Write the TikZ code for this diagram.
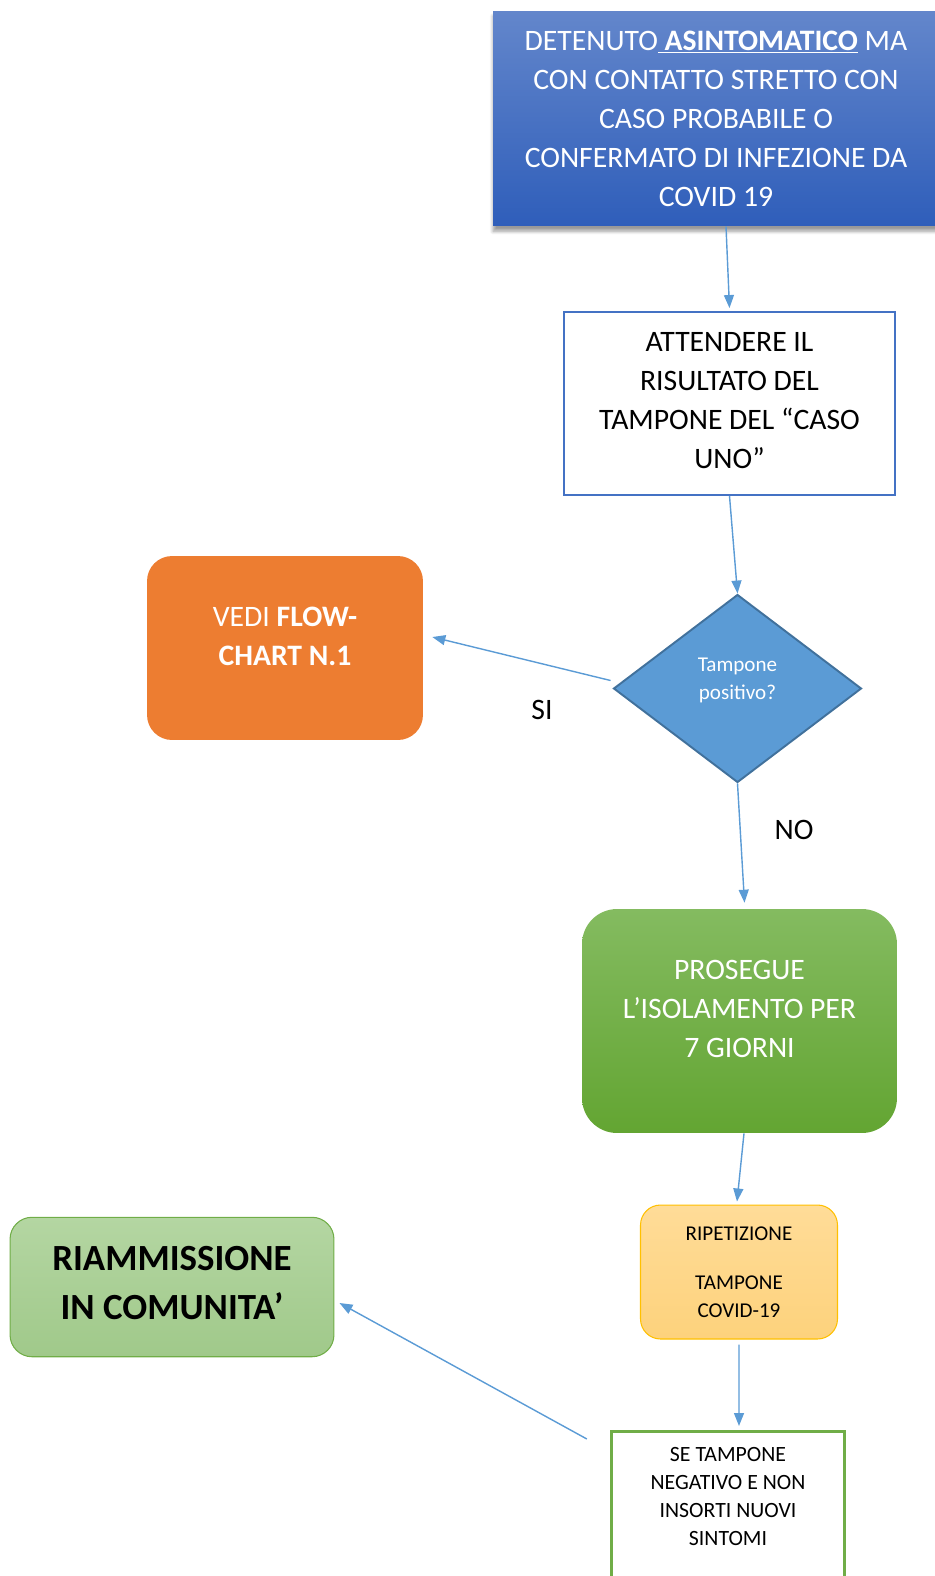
\documentclass[tikz,border=0pt]{standalone}
\usepackage{fontspec}
\setmainfont{Carlito}
\usetikzlibrary{shapes.geometric,arrows.meta,shadows.blur}

\begin{document}
\begin{tikzpicture}[
	x=0.02cm, y=-0.02cm,
	flow/.style={draw=lineblue, line width=0.8pt, -{Triangle[length=0.26cm,width=0.2cm]}},
	bigtext/.style={font=\fontsize{16.9}{22.2}\selectfont, align=center},
	smalltext/.style={font=\fontsize{12}{16}\selectfont, align=center},
	startbox/.style={rectangle, inner sep=0pt, top color=startblue!75, bottom color=startblue, draw=none,
		blur shadow={shadow xshift=0pt, shadow yshift=-3pt, shadow blur steps=6}, text=white, bigtext},
	waitbox/.style={rectangle, inner sep=0pt, draw=borderblue, line width=1.1pt, fill=white, bigtext},
	decision/.style={diamond, inner sep=0pt, fill=diamondblue, draw=diamondedge, line width=1.1pt},
	orangebox/.style={rectangle, rounded corners=0.5cm, inner sep=0pt, fill=flowchart},
	greenbox/.style={rectangle, rounded corners=0.7cm, inner sep=0pt, top color=greentop, bottom color=greenbottom},
	yellowbox/.style={rectangle, rounded corners=0.4cm, inner sep=0pt, top color=yellowtop, bottom color=yellowbottom,
		draw=yellowedge, line width=0.6pt, smalltext},
	endbox/.style={rectangle, rounded corners=0.44cm, inner sep=0pt, top color=lighttop, bottom color=lightbottom,
		draw=greenedge, line width=0.6pt},
	checkbox/.style={rectangle, inner sep=0pt, draw=greenedge, line width=1.6pt, fill=white}
	]
		\definecolor{startblue}{RGB}{47, 94, 186}
		\definecolor{borderblue}{RGB}{68, 114, 196}
		\definecolor{lineblue}{RGB}{91, 155, 213}
		\definecolor{diamondblue}{RGB}{91, 155, 213}
		\definecolor{diamondedge}{RGB}{65, 113, 156}
		\definecolor{flowchart}{RGB}{237, 125, 49}
		\definecolor{greentop}{RGB}{132, 187, 96}
		\definecolor{greenbottom}{RGB}{99, 165, 50}
		\definecolor{yellowtop}{RGB}{255, 220, 152}
		\definecolor{yellowbottom}{RGB}{253, 210, 124}
		\definecolor{yellowedge}{RGB}{255, 192, 0}
		\definecolor{lighttop}{RGB}{180, 214, 162}
		\definecolor{lightbottom}{RGB}{160, 201, 138}
		\definecolor{greenedge}{RGB}{112, 173, 71}

	\useasboundingbox (0,0) rectangle (935,1576);

	% starting case
	\node (detenuto) [startbox, minimum width=8.92cm, minimum height=4.3cm] at (716,118.5)
		{DETENUTO\underline{\textbf{ ASINTOMATICO}} MA\\CON CONTATTO STRETTO CON\\CASO PROBABILE O\\CONFERMATO DI INFEZIONE DA\\COVID 19};

	% wait for the swab
	\node (attesa) [waitbox, minimum width=6.62cm, minimum height=3.66cm] at (729.5,403.5) {};
	\node [bigtext] at ([yshift=0.06cm]attesa.center)
		{ATTENDERE IL\\RISULTATO DEL\\TAMPONE DEL \textquotedblleft CASO\\UNO\textquotedblright};

	% decision
	\node (test) [decision, minimum width=4.96cm, minimum height=3.76cm] at (737.5,688.5) {};
	\node [smalltext, text=white] at ([yshift=0.17cm]test.center) {Tampone\\positivo?};

	% positive branch
	\node (flowchart1) [orangebox, minimum width=5.52cm, minimum height=3.68cm] at (285,648) {};
	\node [bigtext, text=white] at ([yshift=0.23cm]flowchart1.center) {VEDI \textbf{FLOW-}\\\textbf{CHART N.1}};
	\node (si) [bigtext] at (542,710) {SI};

	% negative branch
	\node (isolamento) [greenbox, minimum width=6.3cm, minimum height=4.48cm] at (739.5,1021) {};
	\node [bigtext, text=white] at ([yshift=0.24cm]isolamento.center) {PROSEGUE\\L\textquoteright ISOLAMENTO PER\\7 GIORNI};
	\node (no) [bigtext] at (794,830) {NO};

	% repeat the swab
	\node (ripetizione) [yellowbox, minimum width=3.94cm, minimum height=2.68cm] at (739,1272)
		{RIPETIZIONE\\[12pt]TAMPONE\\COVID-19};

	% final check
	\node (negativo) [checkbox, anchor=north, minimum width=4.67cm, minimum height=4cm] at (728,1430) {};
	\node [smalltext, font=\fontsize{12.4}{16}\selectfont] at ([yshift=-1.33cm]negativo.north)
		{SE TAMPONE\\NEGATIVO E NON\\INSORTI NUOVI\\SINTOMI};

	% back in the community
	\node (riammissione) [endbox, minimum width=6.48cm, minimum height=2.79cm] at (172,1287) {};
	\node [font=\fontsize{21}{27.5}\selectfont\bfseries, align=center] at ([yshift=0.08cm]riammissione.center)
		{RIAMMISSIONE\\IN COMUNITA\textquoteright};

	% connectors
	\draw [flow] ([xshift=0.2cm]detenuto.south) -- ([yshift=0.06cm]attesa.north);
	\draw [flow] (attesa.south) -- (test.north);
	\draw [flow] ([shift={(-0.04cm,0.16cm)}]test.west) -- ([shift={(0.18cm,0.22cm)}]flowchart1.east);
	\draw [flow] (test.south) -- ([shift={(0.1cm,0.12cm)}]isolamento.north);
	\draw [flow] ([xshift=0.09cm]isolamento.south) -- ([shift={(-0.04cm,0.06cm)}]ripetizione.north);
	\draw [flow] ([yshift=-0.1cm]ripetizione.south) -- ([shift={(0.22cm,0.08cm)}]negativo.north);
	\draw [flow] ([shift={(-0.46cm,-0.18cm)}]negativo.north west) -- ([shift={(0.1cm,-0.32cm)}]riammissione.east);
\end{tikzpicture}
\end{document}
